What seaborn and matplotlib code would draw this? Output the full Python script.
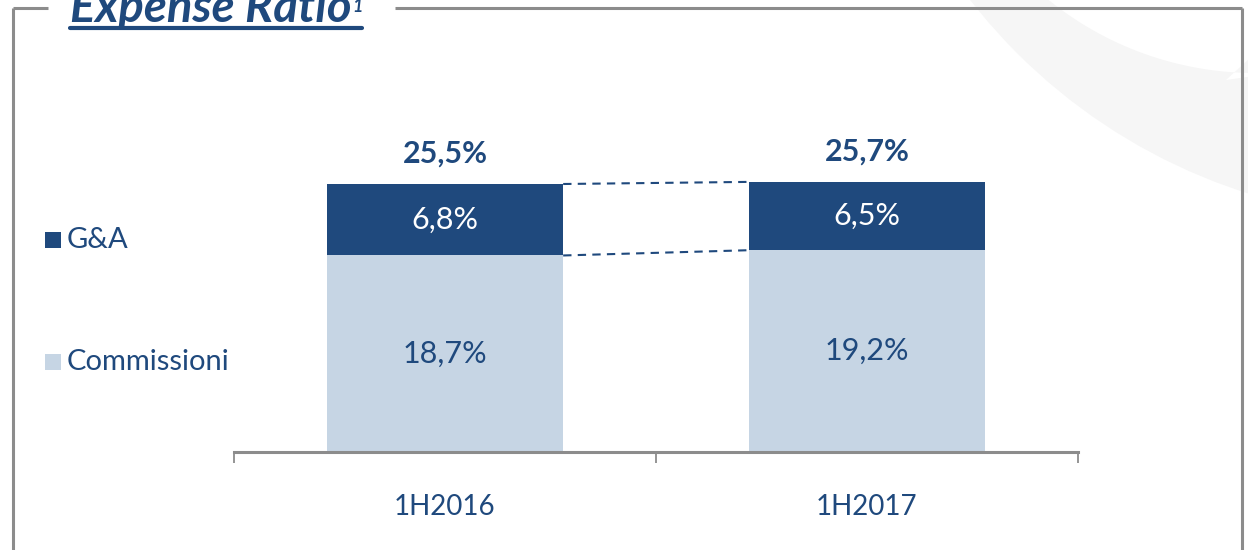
import matplotlib
matplotlib.use("Agg")
import matplotlib.pyplot as plt
import seaborn as sns
import pandas as pd
import numpy as np
from matplotlib.patches import Rectangle, Circle, Polygon
from matplotlib.lines import Line2D

categories = ["1H2016", "1H2017"]
commissioni = [18.7, 19.2]
ga = [6.8, 6.5]
totals = [25.5, 25.7]
commissioni_labels = ["18,7%", "19,2%"]
ga_labels = ["6,8%", "6,5%"]
total_labels = ["25,5%", "25,7%"]
series_names = ["G&A", "Commissioni"]
title = "Expense Ratio"

DARK = "#1F497D"
LIGHT = "#C6D5E4"
GRAY = "#8C8C8C"

sns.set_style("white")
plt.rcParams["font.family"] = ["Lato", "DejaVu Sans"]

W, H = 1248, 550
fig = plt.figure(figsize=(W / 100, H / 100), dpi=100)

def fx(px):
    return px / W

def fy(py):
    return 1 - py / H

# faint background decoration (logo arc)
bg = fig.add_axes([0, 0, 1, 1], zorder=-5)
bg.set_xlim(0, W)
bg.set_ylim(H, 0)
bg.axis("off")
bg.add_patch(Circle((1420, -350), 570, facecolor="#F6F6F6", edgecolor="none", zorder=0))
ang = np.linspace(np.deg2rad(140), np.deg2rad(80), 60)
cx, cy, r = 1255, -255, 328
arc = [(cx + r * np.cos(a), cy + r * np.sin(a) * -1) for a in ang]
arc = [(x, y) for x, y in [(cx + r * np.cos(a), cy - r * np.sin(a)) for a in ang]]
pts = [(cx + r * np.cos(a), cy + r * np.sin(a)) for a in np.linspace(np.deg2rad(130), np.deg2rad(85), 60)]
pts = [p for p in pts]
notch = pts + [(1226, 80), (1250, 58), (1250, -5), (1000, -5)]
bg.add_patch(Polygon(notch, closed=True, facecolor="white", edgecolor="none", zorder=0.5))

# frame lines
for xs, ys in [((13, 13), (8, 550)), ((13, 48), (8, 8)), ((395, 1242), (8, 8)), ((1242, 1242), (8, 550))]:
    bg.add_line(Line2D(xs, ys, color=GRAY, lw=2.2, solid_capstyle="butt", zorder=2))

# main axes
ax_left, ax_right = 234, 1078
base_y, top_y = 452, 100
ax = fig.add_axes([fx(ax_left), fy(base_y), (ax_right - ax_left) / W, (base_y - top_y) / H])
ax.patch.set_alpha(0)

df = pd.DataFrame({"cat": categories, "total": totals, "comm": commissioni})
bw = 0.56
sns.barplot(data=df, x="cat", y="total", order=categories, color=DARK, width=bw,
            saturation=1, ax=ax, edgecolor="none")
sns.barplot(data=df, x="cat", y="comm", order=categories, color=LIGHT, width=bw,
            saturation=1, ax=ax, edgecolor="none")

ax.set_xlim(-0.5, 1.5)
ax.set_ylim(0, (base_y - top_y) / ((base_y - 184) / 25.5))
ax.set_xlabel("")
ax.set_ylabel("")
ax.set_yticks([])
for s in ["top", "right", "left"]:
    ax.spines[s].set_visible(False)
ax.spines["bottom"].set_color(GRAY)
ax.spines["bottom"].set_linewidth(2.2)
ax.set_xticks([0, 1])
ax.set_xticklabels(categories)
ax.tick_params(axis="x", which="major", length=0, pad=30, labelsize=20, labelcolor=DARK)
ax.set_xticks([-0.5, 0.5, 1.5], minor=True)
ax.tick_params(axis="x", which="minor", bottom=True, length=8, width=1.3, color=GRAY,
               direction="out")

# dashed connectors
x0, x1 = 0 + bw / 2, 1 - bw / 2
ax.plot([x0, x1], totals, ls=(0, (4, 3)), color=DARK, lw=1.5, clip_on=False)
ax.plot([x0, x1], commissioni, ls=(0, (4, 3)), color=DARK, lw=1.5, clip_on=False)

# value labels
for i in range(len(categories)):
    ax.text(i, commissioni[i] / 2, commissioni_labels[i], ha="center", va="center",
            color=DARK, fontsize=22)
    ax.text(i, commissioni[i] + ga[i] / 2, ga_labels[i], ha="center", va="center",
            color="white", fontsize=22)
    ax.annotate(total_labels[i], (i, totals[i]), xytext=(0, 22), textcoords="offset points",
                ha="center", va="center", color=DARK, fontsize=22, fontweight="bold")

# legend
for name, col, py in [(series_names[0], DARK, 240), (series_names[1], LIGHT, 362)]:
    bg.add_patch(Rectangle((45, py - 8), 16, 16, facecolor=col, edgecolor="none", zorder=3))
    bg.text(67, py, name, ha="left", va="center", color=DARK, fontsize=21)

# title
t = bg.text(70, 22, title, ha="left", va="baseline", color=DARK, fontsize=34,
            fontweight="bold", fontstyle="italic")
fig.canvas.draw()
bb = t.get_window_extent()
right_px = bb.x1
bg.text(right_px + 1, 12, "1", ha="left", va="baseline", color=DARK, fontsize=13,
        fontweight="bold", fontstyle="italic")
bg.add_line(Line2D((70, right_px + 10), (28, 28), color=DARK, lw=3, zorder=3))

fig.savefig("out.png", dpi=100)
